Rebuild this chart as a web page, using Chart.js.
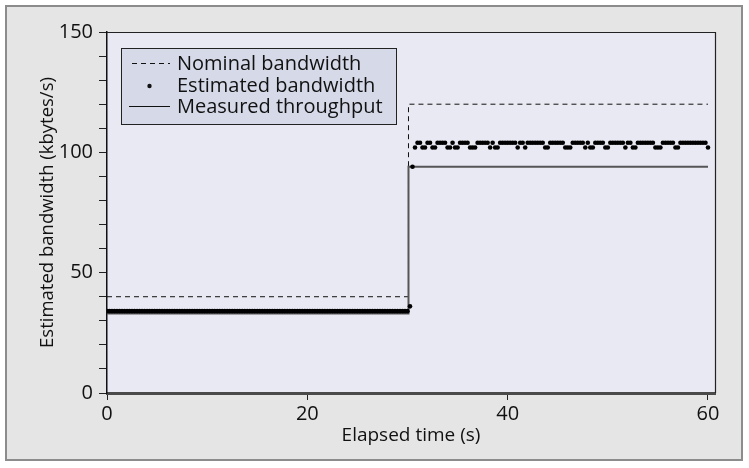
<!DOCTYPE html>
<html>
<head>
<meta charset="utf-8">
<script src="https://cdn.jsdelivr.net/npm/chart.js@4/dist/chart.umd.min.js"></script>
<style>
  html, body { margin: 0; padding: 0; background: #ffffff; }
  #wrap { position: absolute; left: 0; top: 0; width: 749px; height: 468px; }
</style>
</head>
<body>
<div id="wrap"><canvas id="c" width="749" height="468"></canvas></div>
<script>
// ---- data ----
const xTickValues = [0, 20, 40, 60];
const yLabelValues = [0, 50, 100, 150];

const nominalTimes  = [0, 30.1, 30.1, 60];
const nominalValues = [40, 40, 120, 120];

const measuredTimes  = [0, 30.1, 30.1, 60];
const measuredValues = [33, 33, 94, 94];

const samplePeriod = 0.25; // seconds between bandwidth estimates
const estimatedValues = [
  // 0 s .. 30 s
  34,34,34,34,34,34,34,34,34,34, 34,34,34,34,34,34,34,34,34,34,
  34,34,34,34,34,34,34,34,34,34, 34,34,34,34,34,34,34,34,34,34,
  34,34,34,34,34,34,34,34,34,34, 34,34,34,34,34,34,34,34,34,34,
  34,34,34,34,34,34,34,34,34,34, 34,34,34,34,34,34,34,34,34,34,
  34,34,34,34,34,34,34,34,34,34, 34,34,34,34,34,34,34,34,34,34,
  34,34,34,34,34,34,34,34,34,34, 34,34,34,34,34,34,34,34,34,34,
  34,
  // transition
  36, 94,
  // 30.75 s .. 60 s
  102,104,104,102,102,104,104,102,102,104,
  104,104,104,102,102,104,102,102,104,104,
  104,104,102,102,102,104,104,104,104,104,
  102,104,102,102,104,104,104,104,104,104,
  104,102,104,104,102,104,104,104,104,104,
  104,104,102,102,104,104,104,104,104,104,
  102,102,102,104,104,104,104,104,102,104,
  102,102,104,104,104,104,102,102,104,104,
  104,104,104,104,102,104,104,102,102,104,
  104,104,104,104,104,104,102,102,102,104,
  104,104,104,104,102,102,104,104,104,104,
  104,104,104,104,104,104,104,102
];

const seriesLabels = ['Nominal bandwidth', 'Estimated bandwidth', 'Measured throughput'];

// ---- build datasets ----
const pair = (xs, ys) => xs.map((x, i) => ({ x: x, y: ys[i] }));
const estimatedPoints = estimatedValues.map((v, i) => ({ x: i * samplePeriod, y: v }));

const FONT = "'Open Sans', 'Noto Sans', sans-serif";

const framePlugin = {
  id: 'frame',
  beforeDraw(chart) {
    const { ctx, chartArea: a } = chart;
    ctx.save();
    ctx.fillStyle = '#ffffff';
    ctx.fillRect(0, 0, chart.width, chart.height);
    ctx.fillStyle = '#e5e5e5';
    ctx.fillRect(6, 6, 736, 454);
    ctx.strokeStyle = '#8c8c8c';
    ctx.lineWidth = 2;
    ctx.strokeRect(6, 6, 736, 454);
    ctx.fillStyle = '#e9e9f3';
    ctx.fillRect(a.left, a.top, a.right - a.left, a.bottom - a.top);
    ctx.restore();
  },
  afterDraw(chart) {
    const { ctx, chartArea: a } = chart;
    ctx.save();
    ctx.strokeStyle = '#222222';
    ctx.lineWidth = 1.2;
    ctx.beginPath();
    ctx.moveTo(a.left, a.top + 0.5);
    ctx.lineTo(a.right + 0.5, a.top + 0.5);
    ctx.lineTo(a.right + 0.5, a.bottom);
    ctx.stroke();

    // legend box
    const bx = 121, by = 48, bw = 275, bh = 76;
    ctx.fillStyle = '#d5d9e8';
    ctx.fillRect(bx, by, bw, bh);
    ctx.strokeStyle = '#222222';
    ctx.lineWidth = 1;
    ctx.strokeRect(bx + 0.5, by + 0.5, bw, bh);
    const rows = [63, 85, 106];
    ctx.fillStyle = '#111111';
    ctx.font = "20px " + FONT;
    ctx.textBaseline = 'middle';
    ctx.textAlign = 'left';
    seriesLabels.forEach((t, i) => ctx.fillText(t, 177, rows[i] + 1));
    // symbols
    ctx.strokeStyle = '#111111';
    ctx.lineWidth = 1;
    ctx.setLineDash([5, 4]);
    ctx.beginPath();
    ctx.moveTo(132, rows[0] + 0.5); ctx.lineTo(170, rows[0] + 0.5);
    ctx.stroke();
    ctx.setLineDash([]);
    ctx.beginPath();
    ctx.arc(149.5, rows[1] + 1, 2.2, 0, Math.PI * 2);
    ctx.fill();
    ctx.beginPath();
    ctx.moveTo(129, rows[2] + 0.5); ctx.lineTo(170, rows[2] + 0.5);
    ctx.stroke();
    ctx.restore();
  }
};

new Chart(document.getElementById('c'), {
  type: 'scatter',
  data: {
    datasets: [
      {
        label: seriesLabels[0],
        data: pair(nominalTimes, nominalValues),
        showLine: true,
        borderColor: '#111111',
        borderWidth: 1,
        borderDash: [5, 4],
        pointRadius: 0,
        tension: 0,
        order: 3
      },
      {
        label: seriesLabels[2],
        data: pair(measuredTimes, measuredValues),
        showLine: true,
        borderColor: '#555555',
        borderWidth: 2,
        pointRadius: 0,
        tension: 0,
        order: 2
      },
      {
        label: seriesLabels[1],
        data: estimatedPoints,
        showLine: false,
        pointRadius: 2.3,
        pointBackgroundColor: '#000000',
        pointBorderWidth: 0,
        order: 1
      }
    ]
  },
  options: {
    responsive: false,
    animation: false,
    devicePixelRatio: 1,
    layout: { padding: { left: 20, top: 32, right: 34, bottom: 0 } },
    plugins: {
      legend: { display: false },
      tooltip: { enabled: false }
    },
    scales: {
      x: {
        type: 'linear',
        min: 0,
        max: 60.7,
        afterBuildTicks: (s) => { s.ticks = xTickValues.map(v => ({ value: v })); },
        afterFit: (s) => { s.height = 75; },
        grid: { drawOnChartArea: false, drawTicks: true, tickLength: 7, color: '#222222', lineWidth: 1 },
        border: { display: true, color: '#4a4a4a', width: 3 },
        ticks: { color: '#111111', font: { size: 20, family: FONT }, padding: 2, maxRotation: 0, autoSkip: false },
        title: { display: true, text: 'Elapsed time (s)', color: '#111111', font: { size: 19, family: FONT }, padding: { top: 0, bottom: 21 } }
      },
      y: {
        type: 'linear',
        min: 0,
        max: 150,
        afterFit: (s) => { s.width = 87; },
        grid: { drawOnChartArea: false, drawTicks: true, tickLength: 8, color: '#222222', lineWidth: 1 },
        border: { display: true, color: '#111111', width: 1.5 },
        ticks: {
          stepSize: 10,
          autoSkip: false,
          color: '#111111',
          font: { size: 20, family: FONT },
          padding: 6,
          callback: (v) => (yLabelValues.includes(v) ? String(v) : '')
        },
        title: { display: true, text: 'Estimated bandwidth (kbytes/s)', color: '#111111', font: { size: 18.5, family: FONT }, padding: { top: 17, bottom: 0 } }
      }
    }
  },
  plugins: [framePlugin]
});
</script>
</body>
</html>
